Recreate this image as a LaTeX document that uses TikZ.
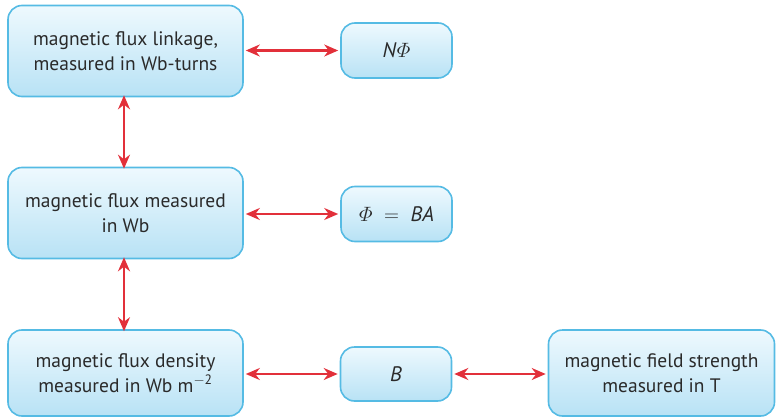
\documentclass[tikz,border=0pt]{standalone}
\usepackage{amsmath}
\usepackage{fontspec}
\setmainfont{PT Sans}
\usetikzlibrary{arrows.meta}
\definecolor{boxborder}{HTML}{55BBE4}
\definecolor{boxtop}{HTML}{EEF9FE}
\definecolor{boxbot}{HTML}{B8E2F5}
\definecolor{arrred}{HTML}{E2303A}
\definecolor{txt}{HTML}{2A2A2A}
\tikzset{
  bx/.style={draw=boxborder, line width=1.6pt, rounded corners=14pt,
    top color=boxtop, bottom color=boxbot, align=center, text=txt,
    font=\fontsize{19.5}{25}\selectfont, inner sep=0pt},
  dbl/.style={arrred, line width=2.2pt, {Stealth[length=14pt,width=12pt]}-{Stealth[length=14pt,width=12pt]}}
}
\begin{document}
\begin{tikzpicture}[x=1pt,y=-1pt]
\useasboundingbox (0,0) rectangle (776,420);
\node[bx, minimum width=235pt, minimum height=91pt] (a) at (125.5,51) {magnetic flux linkage,\\measured in Wb-turns};
\node[bx, minimum width=111pt, minimum height=55pt] (an) at (396.5,50.5) {\fontsize{21}{25}\selectfont\textit{N}$\varPhi$};
\node[bx, minimum width=235pt, minimum height=91pt] (b) at (125.5,213) {magnetic flux measured\\in Wb};
\node[bx, minimum width=111pt, minimum height=55pt] (bn) at (396.5,214) {\fontsize{21}{25}\selectfont$\varPhi \;=\; {}$\textit{BA}};
\node[bx, minimum width=235pt, minimum height=86pt] (c) at (125.5,373) {magnetic flux density\\measured in Wb m\textsuperscript{$-$2}};
\node[bx, minimum width=111pt, minimum height=54pt] (cn) at (396,374) {\fontsize{21}{25}\selectfont\textit{B}};
\node[bx, minimum width=226pt, minimum height=86pt] (d) at (661.5,373) {magnetic field strength\\measured in T};
\draw[dbl] ([xshift=2pt]a.east |- an.west) -- ([xshift=-2pt]an.west);
\draw[dbl] ([xshift=2pt]b.east |- bn.west) -- ([xshift=-2pt]bn.west);
\draw[dbl] ([xshift=2pt]c.east |- cn.west) -- ([xshift=-2pt]cn.west);
\draw[dbl] ([xshift=2pt]cn.east) -- ([xshift=-2pt]d.west |- cn.east);
\draw[dbl] ([yshift=2pt]a.south -| 124,0) -- ([yshift=-2pt]b.north -| 124,0);
\draw[dbl] ([yshift=2pt]b.south -| 124,0) -- ([yshift=-2pt]c.north -| 124,0);
\end{tikzpicture}
\end{document}
